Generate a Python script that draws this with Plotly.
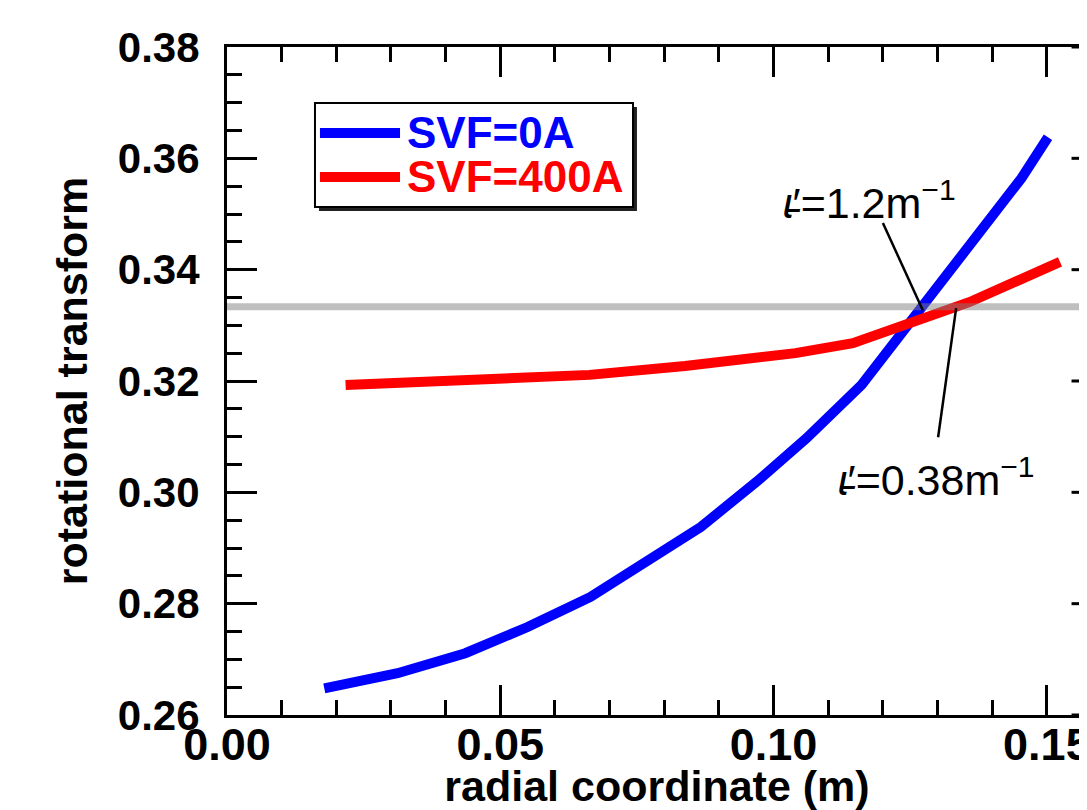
import numpy as np
import plotly.graph_objects as go

# ---- data ----
r_0A = [0.0178, 0.0312, 0.0436, 0.0550, 0.0665, 0.0769, 0.0867, 0.0969, 0.1060, 0.1161, 0.1454, 0.1502]
iota_0A = [0.2648, 0.2675, 0.2711, 0.2758, 0.2812, 0.2875, 0.2938, 0.3019, 0.3097, 0.3193, 0.3565, 0.3638]

r_400A = [0.0217, 0.0353, 0.0485, 0.0663, 0.0838, 0.1040, 0.1145, 0.1359, 0.1524]
iota_400A = [0.3193, 0.3199, 0.3203, 0.3211, 0.3227, 0.3250, 0.3268, 0.3342, 0.3414]

series_names = ["SVF=0A", "SVF=400A"]
series_colors = ["#0000ff", "#ff0000"]

resonance = 1.0 / 3.0
x_range = [0.0, 0.15734]   # right axis (0.16) lies just outside the picture
x_axis_end = 0.16
y_range = [0.26, 0.38]
y_major = [0.26, 0.28, 0.30, 0.32, 0.34, 0.36, 0.38]
y_minor = [round(0.26 + 0.005 * i, 3) for i in range(25)]

IOTA = "<i>ɩ\u0335</i>′"
labels = [IOTA + "=1.2m<sup>−1</sup>", IOTA + "=0.38m<sup>−1</sup>"]
label_pos = [(0.1175, 0.3525), (0.1298, 0.3027)]
pointer_from = [(0.1200, 0.3484), (0.1301, 0.3099)]
pointer_to = [(0.1273, 0.3327), (0.1334, 0.3331)]

FONT = "Liberation Sans, Arial, Helvetica, sans-serif"

fig = go.Figure()
fig.add_trace(go.Scatter(x=r_0A, y=iota_0A, mode="lines", name=series_names[0],
                         line=dict(color=series_colors[0], width=10), showlegend=False))
fig.add_trace(go.Scatter(x=r_400A, y=iota_400A, mode="lines", name=series_names[1],
                         line=dict(color=series_colors[1], width=10), showlegend=False))

shapes = []
# resonance line (semi-transparent, drawn above curves)
shapes.append(dict(type="line", xref="paper", yref="y", x0=0, x1=1, y0=resonance, y1=resonance,
                   line=dict(color="rgba(128,128,128,0.5)", width=7), layer="above"))
# right-hand axis ticks (axis itself lies beyond the picture)
for v in y_minor:
    ln = 0.00549 if any(abs(v - m) < 1e-9 for m in y_major) else 0.00274
    shapes.append(dict(type="line", xref="x", yref="y", x0=x_axis_end - ln, x1=x_axis_end,
                       y0=v, y1=v, line=dict(color="black", width=3)))
# pointer lines for labels
for (xa, ya), (xb, yb) in zip(pointer_from, pointer_to):
    shapes.append(dict(type="line", xref="x", yref="y", x0=xa, y0=ya, x1=xb, y1=yb,
                       line=dict(color="black", width=2.5), layer="above"))

# legend box (manual, to match long line samples)
shapes.append(dict(type="rect", xref="paper", yref="paper", x0=0.1070, x1=0.4767, y0=0.7545, y1=0.9102,
                   line=dict(width=0), fillcolor="#222222", layer="above"))
shapes.append(dict(type="rect", xref="paper", yref="paper", x0=0.1023, x1=0.4721, y0=0.7605, y1=0.9162,
                   line=dict(color="black", width=2), fillcolor="white", layer="above"))
leg_y = [0.8713, 0.8054]
for yy, c in zip(leg_y, series_colors):
    shapes.append(dict(type="line", xref="paper", yref="paper", x0=0.1081, x1=0.2012, y0=yy, y1=yy,
                       line=dict(color=c, width=10), layer="above"))

annotations = []
for yy, name, c in zip(leg_y, series_names, series_colors):
    annotations.append(dict(xref="paper", yref="paper", x=0.207, y=yy, xanchor="left", yanchor="middle",
                            text=name, showarrow=False,
                            font=dict(family=FONT, size=44, color=c, weight="bold")))
for (xx, yy), t in zip(label_pos, labels):
    annotations.append(dict(xref="x", yref="y", x=xx, y=yy, xanchor="center", yanchor="middle",
                            text=t, showarrow=False, font=dict(family=FONT, size=43, color="black")))

# page body has an 8px default margin: figure sized/offset to compensate
fig.update_layout(
    width=1079, height=802,
    margin=dict(l=219, r=0, t=39, b=95, pad=0),
    paper_bgcolor="white", plot_bgcolor="white",
    shapes=shapes, annotations=annotations, showlegend=False,
    xaxis=dict(range=x_range, dtick=0.05, tick0=0, tickformat=".2f", automargin=False,
               ticks="inside", ticklen=30, tickwidth=3, tickcolor="black",
               minor=dict(dtick=0.01, ticks="inside", ticklen=15, tickwidth=3, tickcolor="black"),
               showline=True, linewidth=3, linecolor="black", mirror="ticks",
               showgrid=False, zeroline=False, ticklabelstandoff=-12, ticklabeloverflow="allow",
               tickfont=dict(family=FONT, size=45, color="black", weight="bold"),
               title=dict(text="radial coordinate (m)", standoff=23,
                          font=dict(family=FONT, size=43, color="black", weight="bold"))),
    yaxis=dict(range=y_range, dtick=0.02, tick0=0.26, tickformat=".2f", automargin=False,
               ticks="inside", ticklen=30, tickwidth=3, tickcolor="black",
               minor=dict(dtick=0.005, ticks="inside", ticklen=15, tickwidth=3, tickcolor="black"),
               showline=True, linewidth=3, linecolor="black", mirror=False,
               showgrid=False, zeroline=False, ticklabelstandoff=16, ticklabeloverflow="allow",
               tickfont=dict(family=FONT, size=42, color="black", weight="bold"),
               title=dict(text="rotational transform", standoff=17,
                          font=dict(family=FONT, size=43, color="black", weight="bold"))),
)

fig.write_html("out.html")
